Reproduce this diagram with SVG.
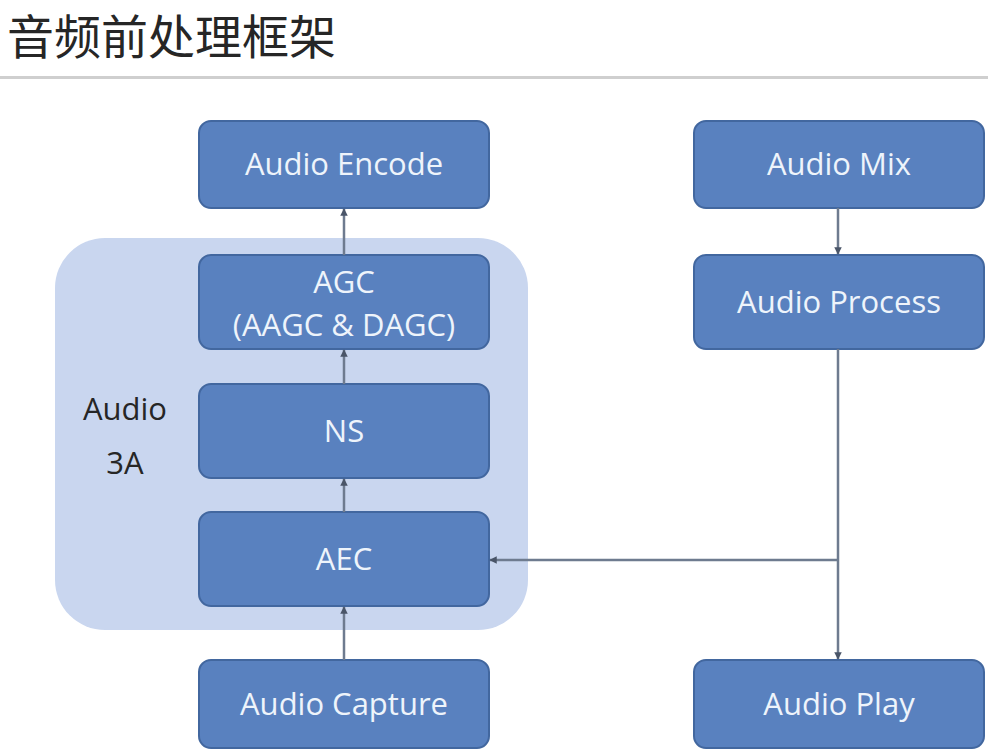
<svg xmlns="http://www.w3.org/2000/svg" width="1000" height="754" viewBox="0 0 1000 754">
<defs>
<style>
.box{fill:#5981bf;stroke:#42679f;stroke-width:2}
.lbl{font-family:"Open Sans","Liberation Sans",sans-serif;font-size:31px;fill:#eef4fb;text-anchor:middle}
.con{stroke:#6e7b8f;stroke-width:2.5;fill:none;marker-end:url(#ah)}
</style>
<marker id="ah" viewBox="0 0 10 10" refX="9" refY="5" markerWidth="3" markerHeight="3" orient="auto"><path d="M0,0 L10,5 L0,10 z" fill="#4a5568"/></marker>
</defs>
<rect width="1000" height="754" fill="#ffffff"/>
<g id="title">
<text x="7" y="54" font-family="Noto Sans CJK SC, sans-serif" font-size="47" fill="#262626">音频前处理框架</text>
<rect x="0" y="76" width="988" height="3" fill="#cfcfcf"/>
</g>
<g id="audio3a">
<rect x="55" y="238" width="473" height="392" rx="50" fill="#c9d6ef"/>
<text class="lbl" x="125" y="420" style="fill:#262626">Audio</text>
<text class="lbl" x="125" y="474" style="fill:#262626">3A</text>
</g>
<g id="encode"><rect class="box" x="199" y="121" width="290" height="87" rx="12"/><text class="lbl" x="344" y="175">Audio Encode</text></g>
<g id="mix"><rect class="box" x="694" y="121" width="290" height="87" rx="12"/><text class="lbl" x="839" y="175">Audio Mix</text></g>
<g id="agc"><rect class="box" x="199" y="255" width="290" height="94" rx="12"/><text class="lbl" x="344" y="293">AGC</text><text class="lbl" x="344" y="336">(AAGC &amp; DAGC)</text></g>
<g id="process"><rect class="box" x="694" y="255" width="290" height="94" rx="12"/><text class="lbl" x="839" y="313">Audio Process</text></g>
<g id="ns"><rect class="box" x="199" y="384" width="290" height="94" rx="12"/><text class="lbl" x="344" y="442">NS</text></g>
<g id="aec"><rect class="box" x="199" y="512" width="290" height="94" rx="12"/><text class="lbl" x="344" y="570">AEC</text></g>
<g id="capture"><rect class="box" x="199" y="660" width="290" height="88" rx="12"/><text class="lbl" x="344" y="715">Audio Capture</text></g>
<g id="play"><rect class="box" x="694" y="660" width="290" height="88" rx="12"/><text class="lbl" x="839" y="715">Audio Play</text></g>
<g id="connectors">
<path class="con" d="M344,255 V209"/>
<path class="con" d="M344,384 V350"/>
<path class="con" d="M344,512 V479"/>
<path class="con" d="M344,660 V607"/>
<path class="con" d="M838,208 V254"/>
<path class="con" d="M838,349 V659"/>
<path class="con" d="M838,560 H490"/>
</g>
</svg>
